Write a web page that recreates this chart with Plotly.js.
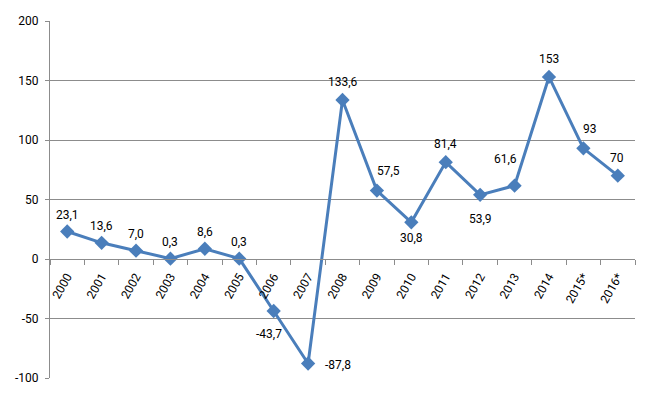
<!DOCTYPE html>
<html>
<head>
<meta charset="utf-8">
<script src="https://cdn.plot.ly/plotly-3.0.1.min.js"></script>
<style>html,body{margin:0;padding:0;background:#fff;}#chart{width:663px;height:394px;}</style>
</head>
<body>
<div id="chart"></div>
<script>
var years = ["2000","2001","2002","2003","2004","2005","2006","2007","2008","2009","2010","2011","2012","2013","2014","2015*","2016*"];
var values = [23.1, 13.6, 7.0, 0.3, 8.6, 0.3, -43.7, -87.8, 133.6, 57.5, 30.8, 81.4, 53.9, 61.6, 153, 93, 70];
var valueLabels = ["23,1","13,6","7,0","0,3","8,6","0,3","-43,7","-87,8","133,6","57,5","30,8","81,4","53,9","61,6","153","93","70"];
var yTicks = [-100, -50, 0, 50, 100, 150, 200];

// label placement offsets (pixels) – styling only
var labelDx = [0,0,0,0,0,0,-5,30,0,12,0,0,0,-9,0,7,-1];
var labelDy = [17,17,17,17,17,17,-23,-2,18,20,-16,18,-24,27,18,19,18];

var lineColor = "#4a7ebb";
var gridColor = "#8c8c8c";
var fontFam = "Roboto, 'Liberation Sans', sans-serif";

var trace = {
  x: years,
  y: values,
  type: "scatter",
  mode: "lines+markers",
  line: {color: lineColor, width: 3},
  marker: {symbol: "diamond", size: 11, color: lineColor},
  hoverinfo: "skip",
  cliponaxis: false
};

var annotations = years.map(function (yr, i) {
  return {
    x: i, y: values[i], xref: "x", yref: "y",
    text: valueLabels[i], showarrow: false,
    xshift: labelDx[i], yshift: labelDy[i],
    font: {family: fontFam, size: 12, color: "#000"}
  };
});

var layout = {
  width: 663, height: 394,
  margin: {l: 50, r: 28, t: 21, b: 16},
  paper_bgcolor: "#fff", plot_bgcolor: "#fff",
  showlegend: false,
  font: {family: fontFam, size: 12, color: "#000"},
  xaxis: {
    type: "category",
    range: [-0.5, years.length - 0.5],
    anchor: "free", position: 1/3,
    showline: true, linecolor: gridColor, linewidth: 1,
    showgrid: false, zeroline: false,
    ticks: "outside", tickson: "boundaries", ticklen: 5, tickcolor: gridColor,
    tickangle: -60,
    ticklabelstandoff: 5,
    tickfont: {family: fontFam, size: 12, color: "#000"}
  },
  yaxis: {
    range: [-100, 200],
    tickvals: yTicks,
    ticktext: yTicks.map(String),
    showline: true, linecolor: gridColor, linewidth: 1,
    showgrid: true, gridcolor: gridColor, gridwidth: 1,
    zeroline: false,
    ticks: "outside", ticklen: 4, tickcolor: gridColor,
    ticklabelstandoff: 4,
    tickfont: {family: fontFam, size: 12, color: "#000"}
  },
  annotations: annotations
};

Plotly.newPlot("chart", [trace], layout, {staticPlot: true, displayModeBar: false});
</script>
</body>
</html>
